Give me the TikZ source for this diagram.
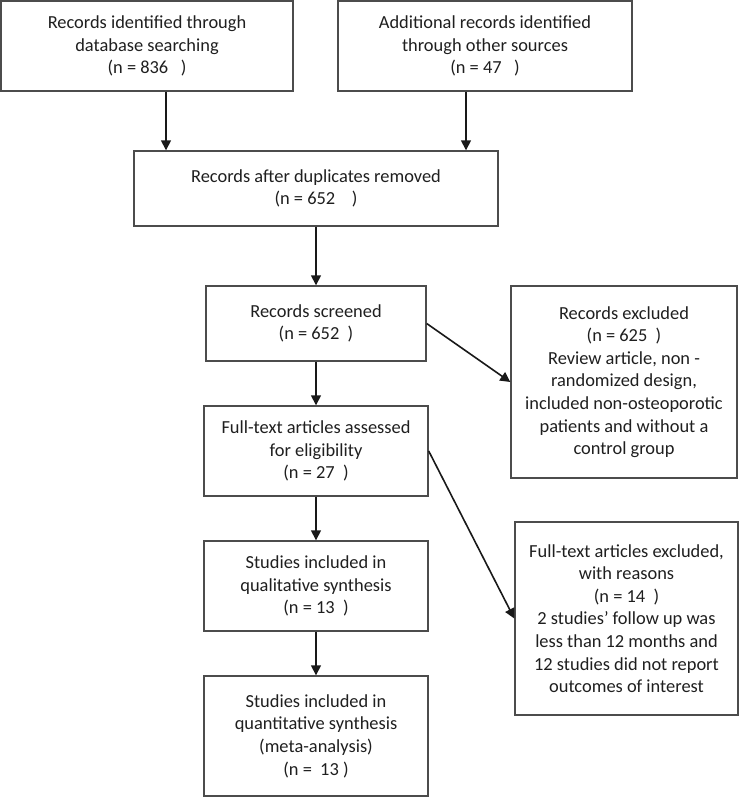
\documentclass[tikz,border=0pt]{standalone}
\usepackage{fontspec}
\setmainfont{Carlito}
\usetikzlibrary{arrows.meta}
\begin{document}
\begin{tikzpicture}[x=1pt,y=-1pt,
  box/.style={draw=black!70,line width=1.4pt,fill=white,align=center,inner sep=0pt,
    text=black!88,font=\fontsize{18.4}{22.6}\selectfont},
  arr/.style={draw=black!90,line width=1.6pt,-{Triangle[width=10pt,length=10pt]}}]
\useasboundingbox (0,0) rectangle (741,797);
\node[box,minimum width=292,minimum height=90] (b1) at (147,46)
  {Records identified through\\database searching\\(n = 836\ \ \ )};
\node[box,minimum width=294,minimum height=90] (b2) at (485,46)
  {Additional records identified\\through other sources\\(n = 47\ \ \ )};
\node[box,minimum width=364,minimum height=75] (b3) at (316,188.5)
  {Records after duplicates removed\\(n = 652\ \ \ \ )};
\node[box,minimum width=220,minimum height=75] (b4) at (316,323.5)
  {Records screened\\(n = 652\ \ )};
\node[box,minimum width=226,minimum height=192] (b5) at (624,382)
  {Records excluded\\(n = 625\ \ )\\Review article, non -\\randomized design,\\included non-osteoporotic\\patients and without a\\control group};
\node[box,minimum width=224,minimum height=90] (b6) at (316,451)
  {Full-text articles assessed\\for eligibility\\(n = 27\ \ )};
\node[box,minimum width=224,minimum height=90] (b7) at (316,586)
  {Studies included in\\qualitative synthesis\\(n = 13\ \ )};
\node[box,minimum width=224,minimum height=120] (b8) at (316,736)
  {Studies included in\\quantitative synthesis\\(meta-analysis)\\(n =\ \ 13 )};
\node[box,minimum width=223,minimum height=193] (b9) at (626.5,618.5)
  {Full-text articles excluded,\\with reasons\\(n = 14\ \ )\\2 studies’ follow up was\\less than 12 months and\\12 studies did not report\\outcomes of interest};
\coordinate (c1) at (166,0);
\coordinate (c2) at (466,0);
\draw[arr] (b1.south -| c1) -- (b3.north -| c1);
\draw[arr] (b2.south -| c2) -- (b3.north -| c2);
\draw[arr] (b3.south) -- (b4.north);
\draw[arr] (b4.east) -- (b5.west);
\draw[arr] (b4.south) -- (b6.north);
\draw[arr] (b6.east) -- (b9.west);
\draw[arr] (b6.south) -- (b7.north);
\draw[arr] (b7.south) -- (b8.north);
\end{tikzpicture}
\end{document}
